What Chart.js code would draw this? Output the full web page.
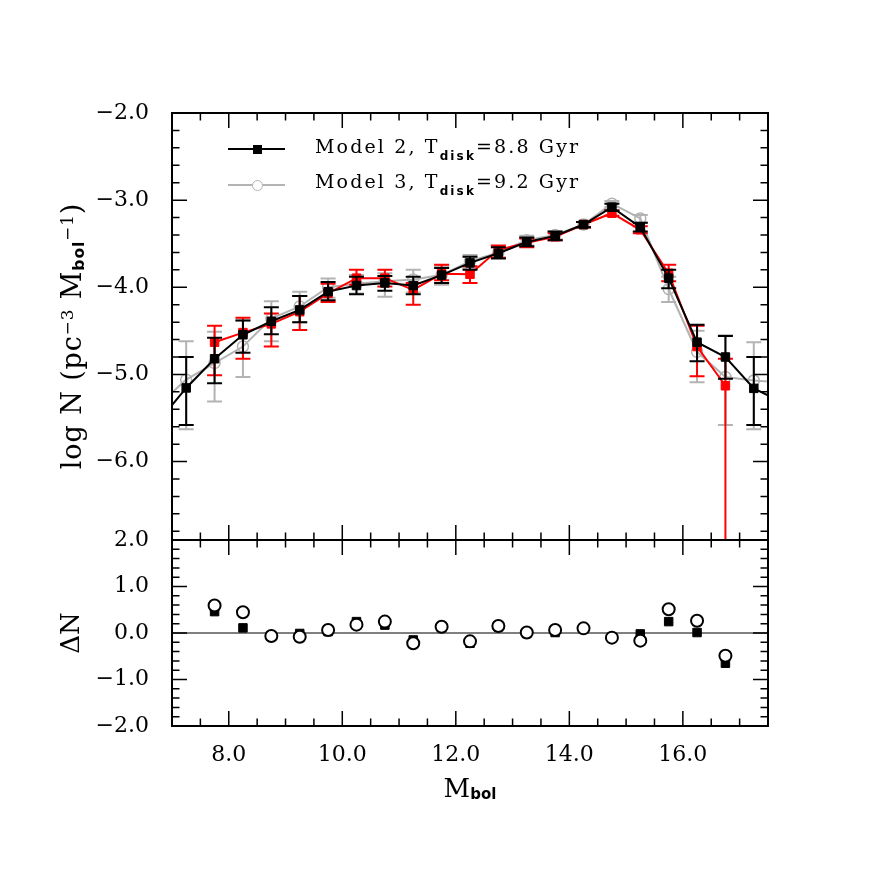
<!DOCTYPE html>
<html>
<head>
<meta charset="utf-8">
<title>Luminosity function, Model 2 vs Model 3</title>
<script src="https://cdn.jsdelivr.net/npm/chart.js@4.4.1/dist/chart.umd.min.js"></script>
<style>
    html, body { margin: 0; padding: 0; background: #fff; }
    #wrap { position: relative; width: 872px; height: 872px; font-family: "DejaVu Serif", serif; color: #000; }
    #wrap canvas { position: absolute; left: 0; top: 0; }
    .lbl { position: absolute; white-space: nowrap; line-height: 30px; }
    .rot { transform: translate(-50%, -50%) rotate(-90deg); }
    .sub { font-family: "DejaVu Sans", sans-serif; font-weight: bold; line-height: 1; }
    .sup { line-height: 1; }
    .legText { position: absolute; white-space: nowrap; font-size: 19px; line-height: 24px; }
    .legLine { position: absolute; height: 2px; }
    .legMark { position: absolute; box-sizing: border-box; }
</style>
</head>
<body>
<div id="wrap">
    <canvas id="lfChart" width="872" height="872"></canvas>
    <canvas id="diffChart" width="872" height="872"></canvas>

    <!-- axis titles -->
    <div class="lbl rot" style="left:72px; top:336px; font-size:27px; letter-spacing:0.9px;">log N (pc<span class="sup" style="font-size:0.62em; vertical-align:0.45em;">−3</span> M<span class="sub" style="font-size:0.58em; vertical-align:-0.2em;">bol</span><span class="sup" style="font-size:0.62em; vertical-align:0.45em;">−1</span>)</div>
    <div class="lbl rot" style="left:70px; top:633px; font-size:26px;">ΔN</div>
    <div class="lbl" style="left:470px; top:773px; font-size:26px; transform:translateX(-50%);">M<span class="sub" style="font-size:15px; vertical-align:-2px;">bol</span></div>

    <!-- legend -->
    <div class="legLine" style="left:228px; top:148px; width:57px; background:#000;"></div>
    <div class="legMark" style="left:253px; top:145px; width:9px; height:9px; background:#000;"></div>
    <div class="legText" style="left:315px; top:134px;">Model 2, T<span class="sub" style="font-size:12px; vertical-align:-7px;">disk</span>=8.8 Gyr</div>

    <div class="legLine" style="left:228px; top:184px; width:57px; background:#b3b3b3;"></div>
    <div class="legMark" style="left:252px; top:180px; width:11px; height:11px; border:1.5px solid #b3b3b3; border-radius:50%; background:#fff;"></div>
    <div class="legText" style="left:315px; top:169px;">Model 3, T<span class="sub" style="font-size:12px; vertical-align:-7px;">disk</span>=9.2 Gyr</div>
</div>

<script>
// ---- values ----
const xMin = 7.0;
const xMax = 17.5;
const xMajorTicks = [8, 10, 12, 14, 16];
const topMajorTicks = [-2, -3, -4, -5, -6];
const diffMajorTicks = [-2, -1, 0, 1, 2];
const topMin = -6.9, topMax = -2.0;
const diffMin = -2.0, diffMax = 2.0;

// model bins (first and last run off the frame)
const mbolModel = [6.75, 7.25, 7.75, 8.25, 8.75, 9.25, 9.75, 10.25, 10.75, 11.25, 11.75, 12.25,
                   12.75, 13.25, 13.75, 14.25, 14.75, 15.25, 15.75, 16.25, 16.75, 17.25, 17.75];

const model2LogN = [-5.55, -5.155, -4.82, -4.545, -4.39, -4.26, -4.05, -3.98, -3.95, -3.98, -3.86, -3.72,
                    -3.61, -3.48, -3.41, -3.28, -3.08, -3.31, -3.895, -4.63, -4.80, -5.16, -5.32];
const model2Hi = [null, -4.80, -4.58, -4.38, -4.23, -4.10, -3.94, -3.88, -3.87, -3.88, -3.78, -3.65,
                  -3.54, -3.43, -3.36, -3.25, -3.04, -3.26, -3.80, -4.43, -4.56, -4.80, null];
const model2Lo = [null, -5.58, -5.10, -4.75, -4.54, -4.40, -4.15, -4.08, -4.04, -4.08, -3.95, -3.80,
                  -3.67, -3.53, -3.46, -3.31, -3.12, -3.36, -4.01, -4.85, -5.05, -5.58, null];

const model3LogN = [-5.36, -5.06, -4.87, -4.68, -4.36, -4.22, -4.00, -3.96, -3.93, -3.91, -3.86, -3.70,
                    -3.60, -3.46, -3.40, -3.28, -3.04, -3.21, -4.02, -4.74, -5.03, -5.07, -5.09];
const model3Hi = [null, -4.62, -4.51, -4.38, -4.16, -4.05, -3.90, -3.86, -3.84, -3.80, -3.76, -3.63,
                  -3.54, -3.41, -3.36, -3.25, -3.01, -3.17, -3.88, -4.50, -4.55, -4.63, null];
const model3Lo = [null, -5.63, -5.31, -5.03, -4.62, -4.40, -4.12, -4.07, -4.11, -4.06, -3.97, -3.78,
                  -3.66, -3.52, -3.45, -3.32, -3.08, -3.26, -4.17, -5.09, -5.58, -5.63, null];

// observed luminosity function (red)
const mbolObs = [7.75, 8.25, 8.75, 9.25, 9.75, 10.25, 10.75, 11.25, 11.75, 12.25,
                 12.75, 13.25, 13.75, 14.25, 14.75, 15.25, 15.75, 16.25, 16.75];
const obsLogN = [-4.63, -4.52, -4.42, -4.28, -4.07, -3.895, -3.895, -4.03, -3.845, -3.85,
                 -3.57, -3.49, -3.42, -3.28, -3.15, -3.34, -3.84, -4.68, -5.13];
const obsHi = [-4.44, -4.35, -4.30, -4.10, -3.96, -3.80, -3.80, -3.95, -3.74, -3.76,
               -3.52, -3.44, -3.38, -3.25, -3.12, -3.30, -3.74, -4.44, -4.82];
const obsLo = [-5.01, -4.82, -4.68, -4.49, -4.17, -3.97, -3.99, -4.20, -3.92, -3.95,
               -3.66, -3.54, -3.46, -3.31, -3.18, -3.38, -3.93, -5.02, -9.0];

// residuals, lower panel
const mbolDiff = mbolObs;
const diffModel2 = [0.46, 0.11, -0.07, -0.01, 0.03, 0.245, 0.17, -0.15, 0.12, -0.22,
                    0.13, -0.01, 0.01, 0.10, -0.10, -0.02, 0.245, 0.01, -0.65];
const diffModel3 = [0.59, 0.445, -0.065, -0.08, 0.065, 0.18, 0.245, -0.22, 0.135, -0.18,
                    0.15, 0.01, 0.065, 0.10, -0.10, -0.165, 0.51, 0.265, -0.49];

// ---- layout (pixels) ----
const plotLeft = 172, plotRight = 768, plotTop = 113, panelSplit = 540, plotBottom = 726;
const SIZE = 872;
const GRAY = '#b3b3b3';
const RED = '#ff0000';

function toPoints(xs, ys) {
    return xs.map((x, i) => ({ x: x, y: ys[i] }));
}

function minorTicks(from, to, step, majors) {
    const out = [];
    const n = Math.round((to - from) / step);
    for (let i = 0; i <= n; i++) {
        const v = +(from + i * step).toFixed(3);
        if (!majors.some(m => Math.abs(m - v) < 1e-6)) out.push(v);
    }
    return out;
}

function fmt(v) {
    return v.toFixed(1).replace('-', '−');
}

// Error bars, drawn just under each dataset's own line and markers
const errorBarPlugin = {
    id: 'errorBars',
    beforeDatasetDraw(chart, args) {
        const ds = chart.data.datasets[args.index];
        if (!ds.errHi) return;
        const { ctx, chartArea, scales } = chart;
        ctx.save();
        ctx.beginPath();
        ctx.rect(chartArea.left, chartArea.top, chartArea.width, chartArea.height);
        ctx.clip();
        ctx.strokeStyle = ds.borderColor;
        ctx.lineWidth = 2;
        const cap = 7.5;
        ds.data.forEach((pt, i) => {
            const hi = ds.errHi[i], lo = ds.errLo[i];
            if (hi == null || lo == null) return;
            const x = scales.x.getPixelForValue(pt.x);
            const yHi = scales.y.getPixelForValue(hi);
            const yLo = scales.y.getPixelForValue(lo);
            ctx.beginPath();
            ctx.moveTo(x, yHi); ctx.lineTo(x, yLo);
            ctx.moveTo(x - cap, yHi); ctx.lineTo(x + cap, yHi);
            ctx.moveTo(x - cap, yLo); ctx.lineTo(x + cap, yLo);
            ctx.stroke();
        });
        ctx.restore();
    }
};

// Box frame with inward major/minor ticks on all four sides
function makeFramePlugin(yMajor, yMinor) {
    const xMinor = minorTicks(xMin, xMax, 0.5, xMajorTicks);
    return {
        id: 'frame',
        afterDraw(chart) {
            const { ctx, chartArea: a, scales } = chart;
            ctx.save();
            ctx.strokeStyle = '#000';
            ctx.lineWidth = 1.5;
            ctx.beginPath();
            const xt = (v, len) => {
                const x = scales.x.getPixelForValue(v);
                ctx.moveTo(x, a.bottom); ctx.lineTo(x, a.bottom - len);
                ctx.moveTo(x, a.top); ctx.lineTo(x, a.top + len);
            };
            const yt = (v, len) => {
                const y = scales.y.getPixelForValue(v);
                ctx.moveTo(a.left, y); ctx.lineTo(a.left + len, y);
                ctx.moveTo(a.right, y); ctx.lineTo(a.right - len, y);
            };
            xMajorTicks.forEach(v => xt(v, 15));
            xMinor.forEach(v => xt(v, 7.5));
            yMajor.forEach(v => yt(v, 15));
            yMinor.forEach(v => yt(v, 7.5));
            ctx.stroke();
            ctx.lineWidth = 2;
            ctx.strokeRect(a.left, a.top, a.width, a.height);
            ctx.restore();
        }
    };
}

const tickFont = { family: 'DejaVu Serif', size: 22 };

function yAxis(min, max, majors) {
    return {
        min: min,
        max: max,
        afterBuildTicks: s => { s.ticks = majors.map(v => ({ value: v })); },
        afterFit: s => { s.width = plotLeft; },
        grid: { display: false },
        border: { display: false },
        ticks: { padding: 15, color: '#000', font: tickFont, callback: v => fmt(v) }
    };
}

Chart.defaults.font.family = 'DejaVu Serif';

// ---- upper panel: log N ----
new Chart(document.getElementById('lfChart'), {
    type: 'line',
    data: {
        datasets: [
            {
                label: 'Model 2, Tdisk=8.8 Gyr',
                data: toPoints(mbolModel, model2LogN),
                errHi: model2Hi, errLo: model2Lo,
                borderColor: '#000', backgroundColor: '#000',
                borderWidth: 2, tension: 0,
                pointStyle: 'rect', pointRadius: 6, pointBorderWidth: 1,
                pointBackgroundColor: '#000', pointBorderColor: '#000'
            },
            {
                label: 'Observed',
                data: toPoints(mbolObs, obsLogN),
                errHi: obsHi, errLo: obsLo,
                borderColor: RED, backgroundColor: RED,
                borderWidth: 2, tension: 0,
                pointStyle: 'rect', pointRadius: 6, pointBorderWidth: 1,
                pointBackgroundColor: RED, pointBorderColor: RED
            },
            {
                label: 'Model 3, Tdisk=9.2 Gyr',
                data: toPoints(mbolModel, model3LogN),
                errHi: model3Hi, errLo: model3Lo,
                borderColor: GRAY, backgroundColor: GRAY,
                borderWidth: 2, tension: 0,
                pointStyle: 'circle', pointRadius: 5.5, pointBorderWidth: 1.5,
                pointBackgroundColor: 'rgba(255,255,255,0)', pointBorderColor: GRAY
            }
        ]
    },
    options: {
        responsive: false,
        animation: false,
        events: [],
        layout: { padding: { left: 0, right: SIZE - plotRight, top: plotTop, bottom: SIZE - panelSplit } },
        plugins: { legend: { display: false }, tooltip: { enabled: false } },
        scales: {
            x: { type: 'linear', min: xMin, max: xMax, display: false },
            y: yAxis(topMin, topMax, topMajorTicks)
        }
    },
    plugins: [errorBarPlugin, makeFramePlugin(topMajorTicks, minorTicks(-6.8, -2.0, 0.2, topMajorTicks))]
});

// ---- lower panel: residuals ----
new Chart(document.getElementById('diffChart'), {
    type: 'line',
    data: {
        datasets: [
            {
                label: 'Model 3 residual',
                data: toPoints(mbolDiff, diffModel3),
                showLine: false,
                pointStyle: 'circle', pointRadius: 6, pointBorderWidth: 2,
                pointBackgroundColor: '#fff', pointBorderColor: '#000'
            },
            {
                label: 'Model 2 residual',
                data: toPoints(mbolDiff, diffModel2),
                showLine: false,
                pointStyle: 'rect', pointRadius: 6, pointBorderWidth: 1,
                pointBackgroundColor: '#000', pointBorderColor: '#000'
            },
            {
                label: 'zero',
                data: toPoints([xMin, xMax], [0, 0]),
                borderColor: '#000', borderWidth: 1,
                pointRadius: 0
            }
        ]
    },
    options: {
        responsive: false,
        animation: false,
        events: [],
        layout: { padding: { left: 0, right: SIZE - plotRight, top: panelSplit, bottom: 0 } },
        plugins: { legend: { display: false }, tooltip: { enabled: false } },
        scales: {
            x: {
                type: 'linear', min: xMin, max: xMax,
                afterBuildTicks: s => { s.ticks = xMajorTicks.map(v => ({ value: v })); },
                afterFit: s => { s.height = SIZE - plotBottom; },
                grid: { display: false },
                border: { display: false },
                ticks: { padding: 8, color: '#000', font: tickFont, maxRotation: 0, callback: v => fmt(v) }
            },
            y: yAxis(diffMin, diffMax, diffMajorTicks)
        }
    },
    plugins: [makeFramePlugin(diffMajorTicks, minorTicks(-2.0, 2.0, 0.2, diffMajorTicks))]
});

// legend text stretched to the length it has in the figure
function fitLetterSpacing(el, target) {
    const n = el.textContent.length;
    el.style.letterSpacing = '0px';
    let ls = (target - el.offsetWidth) / n;
    el.style.letterSpacing = ls + 'px';
    ls += (target - el.offsetWidth) / n;
    el.style.letterSpacing = ls + 'px';
}
function fitLegend() {
    document.querySelectorAll('.legText').forEach(el => fitLetterSpacing(el, 265));
}
fitLegend();
if (document.fonts) document.fonts.ready.then(fitLegend);
</script>
</body>
</html>
